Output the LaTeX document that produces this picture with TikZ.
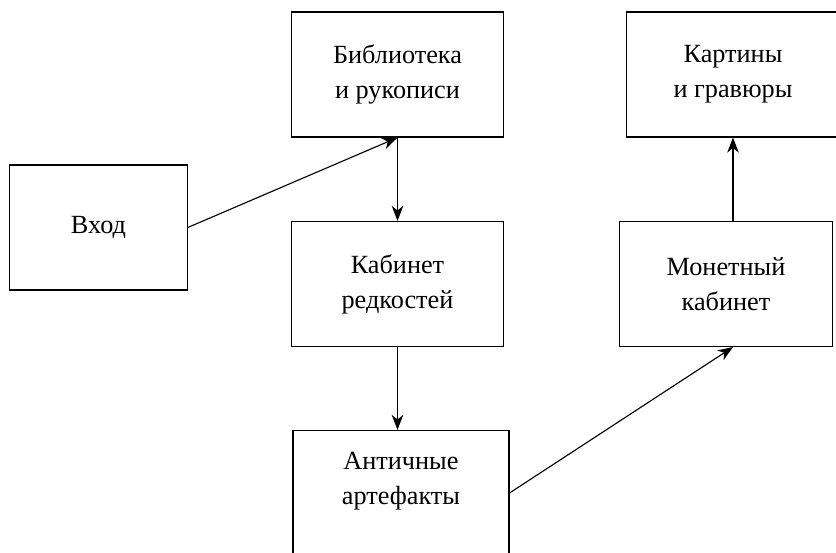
\documentclass[tikz,border=0pt]{standalone}
\usepackage{fontspec}
\setmainfont{Liberation Serif}
\usepackage{tikz}
\usetikzlibrary{arrows.meta}

\begin{document}
\begin{tikzpicture}[->,>={Stealth[length=6pt,width=4.6pt,inset=1.8pt]},line width=0.45pt,x=0.4pt,y=-0.4pt]
  \tikzstyle{hall}=[rectangle,draw,text=black,align=center,minimum width=85pt,minimum height=50pt,font=\fontsize{10.5}{14}\selectfont]
  \useasboundingbox (0,0) rectangle (836,553);
  \node[hall,minimum width=71pt] (vhod) at (98.5, 227.5) {Вход};
  \node[hall]         (lib) at (397.5, 74.5)     {Библиотека\\и рукописи};
  \node[hall]         (kab) at (397.5, 284)      {Кабинет\\редкостей};
  \node[hall,minimum width=86.4pt,text depth=12pt] (ant) at (401, 493) {Античные\\артефакты};
  \node[hall]         (mon) at (726, 284)        {Монетный\\кабинет};
  \node[hall]         (kart) at (733, 74.5)      {Картины\\и гравюры};
  \path (vhod.east) edge              (lib.south);
  \path (lib) edge                    (kab);
  \path (kab.south) edge              (kab.south |- ant.north);
  \path (ant.east) edge               (kart.south |- mon.south);
  \path (kart.south |- mon.north) edge (kart.south);
\end{tikzpicture}
\end{document}
